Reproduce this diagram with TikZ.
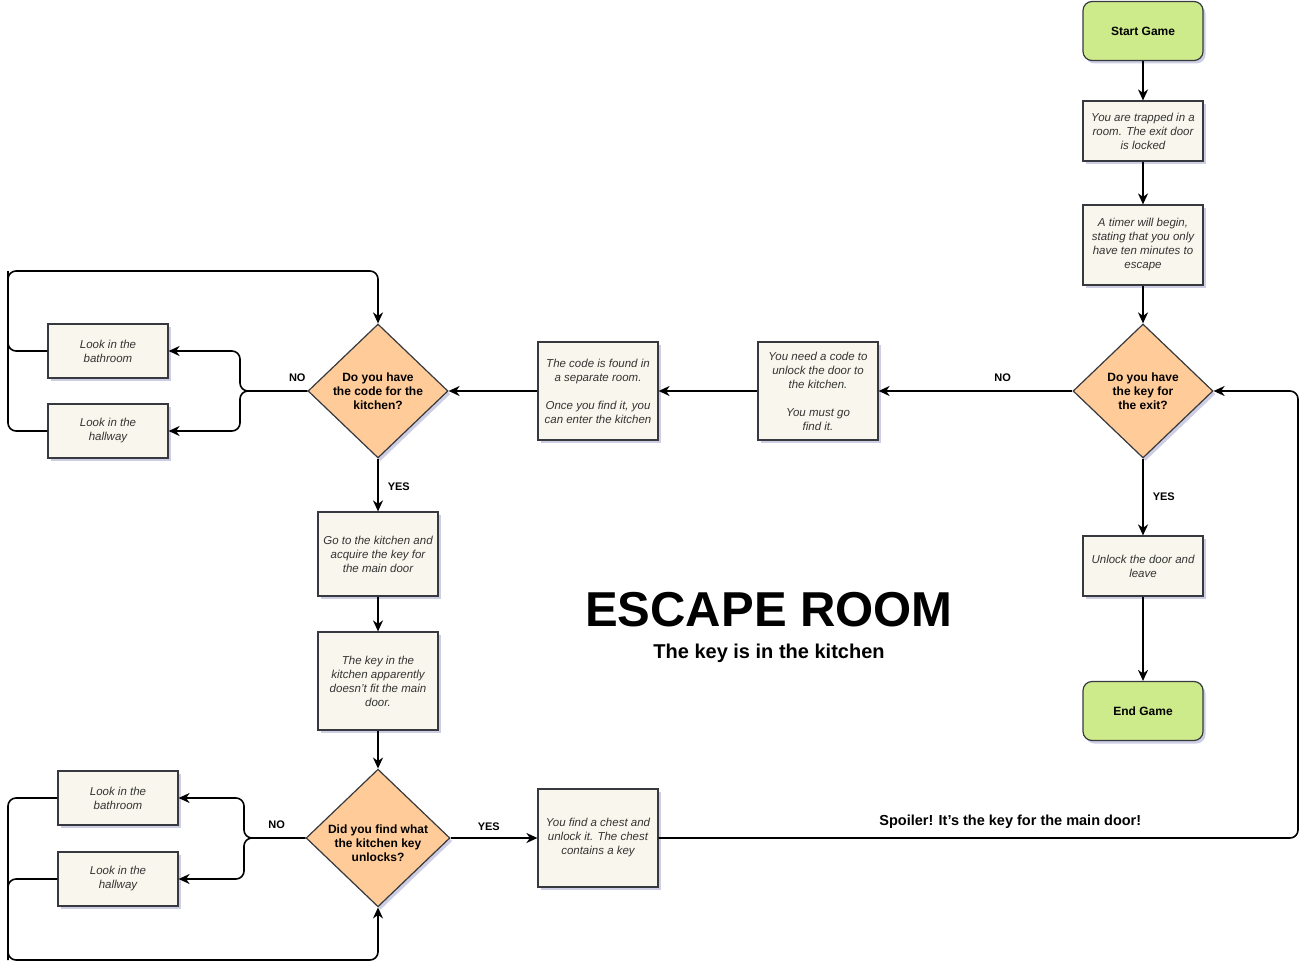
\documentclass[tikz,border=0pt]{standalone}
\usepackage{fontspec}
\setmainfont{Liberation Sans}
\usetikzlibrary{arrows.meta,shapes.geometric,shadows}
\definecolor{boxfill}{HTML}{F9F7ED}
\definecolor{boxline}{HTML}{36393D}
\definecolor{greenfill}{HTML}{CDEB8B}
\definecolor{orangefill}{HTML}{FFCC99}
\definecolor{textgray}{HTML}{333333}

\begin{document}
\begin{tikzpicture}[x=1pt,y=-1pt,
    boxshadow/.style={drop shadow={shadow xshift=2.5pt,shadow yshift=-3pt,opacity=0.3,fill=blue!30!gray}},
    box/.style={draw=boxline,fill=boxfill,line width=1.2pt,minimum width=120pt,inner sep=2pt,align=center,
      font=\fontsize{11.5}{14}\selectfont\itshape,text=textgray,boxshadow},
    term/.style={box,fill=greenfill,rounded corners=9pt,minimum height=59pt,font=\fontsize{12}{14}\selectfont\bfseries,text=black},
    choice/.style={diamond,aspect=1.045,draw=boxline,fill=orangefill,line width=1.2pt,minimum width=140pt,minimum height=134pt,
      inner sep=0pt,align=center,font=\fontsize{12}{14}\selectfont\bfseries,boxshadow},
    link/.style={line width=1.6pt,rounded corners=8pt},
    arr/.style={link,-{Stealth[length=11pt,width=10pt,inset=3.5pt]}},
    lbl/.style={inner sep=1pt,font=\fontsize{11}{13}\selectfont\bfseries}]
  \useasboundingbox (0,0) rectangle (1313,976);

  \node[term] (start) at (1143,31) {Start Game};
  \node[box,minimum height=60pt] (trap) at (1143,131) {You are trapped in a\\room. The exit door\\is locked};
  \node[box,minimum height=80pt] (timer) at (1143,245) {A timer will begin,\\stating that you only\\have ten minutes to\\escape};
  \node[choice] (exitkey) at (1143,391) {Do you have\\the key for\\the exit?};
  \node[box,minimum height=60pt] (unlock) at (1143,566) {Unlock the door and\\leave};
  \node[term] (end) at (1143,711) {End Game};
  \node[box,minimum height=98pt] (needcode) at (818,391) {You need a code to\\unlock the door to\\the kitchen.\\[14pt]You must go\\find it.};
  \node[box,minimum height=98pt] (codefound) at (598,391) {The code is found in\\a separate room.\\[14pt]Once you find it, you\\can enter the kitchen};
  \node[choice] (kitchencode) at (378,391) {Do you have\\the code for the\\kitchen?};
  \node[box,minimum height=54pt] (bath1) at (108,351) {Look in the\\bathroom};
  \node[box,minimum height=54pt] (hall1) at (108,431) {Look in the\\hallway};
  \node[box,minimum height=84pt] (gokitchen) at (378,554) {Go to the kitchen and\\acquire the key for\\the main door};
  \node[box,minimum height=98pt] (keyfit) at (378,681) {The key in the\\kitchen apparently\\doesn't fit the main\\door.};
  \node[choice] (keyunlock) at (378,838) {\raisebox{-7pt}[\height][\depth]{\begin{tabular}{@{}c@{}}Did you find what\\the kitchen key\\unlocks?\end{tabular}}};
  \node[box,minimum height=54pt] (bath2) at (118,798) {Look in the\\bathroom};
  \node[box,minimum height=54pt] (hall2) at (118,879) {Look in the\\hallway};
  \node[box,minimum height=98pt] (chest) at (598,838) {You find a chest and\\unlock it. The chest\\contains a key};

  \node[font=\fontsize{49}{51}\selectfont\bfseries] (title) at (769,610) {ESCAPE ROOM};
  \node[font=\fontsize{20}{22}\selectfont\bfseries] (subtitle) at (769,653) {The key is in the kitchen};

  \coordinate (split1) at (240,391);
  \coordinate (loop1) at (8,271);
  \coordinate (split2) at (244,838);
  \coordinate (loop2) at (8,960);
  \coordinate (back) at (1298,838);

  \draw[arr] (start) -- (trap);
  \draw[arr] (trap) -- (timer);
  \draw[arr] (timer) -- (exitkey);
  \draw[arr] (exitkey) -- node[lbl,above=8pt,pos=0.36] {NO} (needcode);
  \draw[arr] (exitkey) -- node[lbl,right=8pt,pos=0.5] {YES} (unlock);
  \draw[arr] (unlock) -- (end);
  \draw[arr] (needcode) -- (codefound);
  \draw[arr] (codefound) -- (kitchencode);
  \draw[arr] (kitchencode.west) -- node[lbl,above=8pt,pos=0.15] {NO} (split1) |- (bath1.east);
  \draw[arr] (kitchencode.west) -- (split1) |- (hall1.east);
  \draw[arr] (bath1.west) -| (loop1) -| (kitchencode.north);
  \draw[link] (hall1.west) -| (loop1);
  \draw[arr] (kitchencode) -- node[lbl,right=8pt,pos=0.54] {YES} (gokitchen);
  \draw[arr] (gokitchen) -- (keyfit);
  \draw[arr] (keyfit) -- (keyunlock);
  \draw[arr] (keyunlock.west) -- node[lbl,above=8pt,pos=0.47] {NO} (split2) |- (bath2.east);
  \draw[arr] (keyunlock.west) -- (split2) |- (hall2.east);
  \draw[arr] (bath2.west) -| (loop2) -| (keyunlock.south);
  \draw[link] (hall2.west) -| (loop2);
  \draw[arr] (keyunlock) -- node[lbl,above=6pt,pos=0.44] {YES} (chest);
  \draw[arr] (chest) -- node[lbl,above=8pt,pos=0.55,font=\fontsize{14.5}{16}\selectfont\bfseries] {Spoiler! It's the key for the main door!} (back) |- (exitkey.east);
\end{tikzpicture}
\end{document}
